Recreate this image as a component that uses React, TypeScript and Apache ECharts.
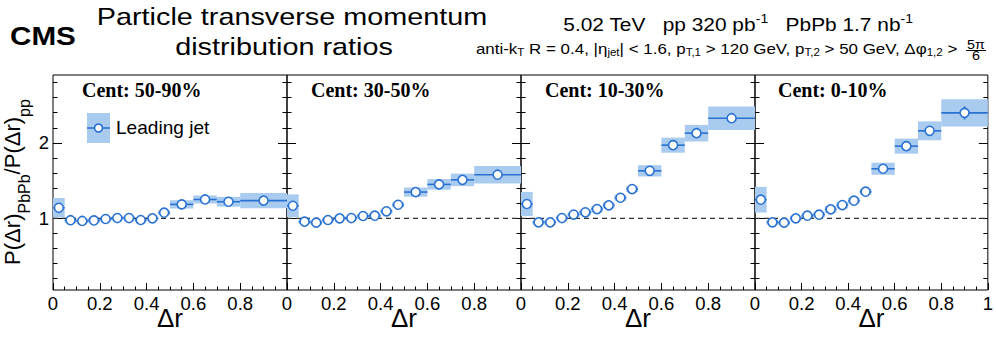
import React, { useEffect, useRef } from 'react';
import * as echarts from 'echarts';

// ---------------- data ----------------
const CENTRALITIES = ['Cent: 50-90%', 'Cent: 30-50%', 'Cent: 10-30%', 'Cent: 0-10%'];
const BIN_EDGES = [0, 0.05, 0.1, 0.15, 0.2, 0.25, 0.3, 0.35, 0.4, 0.45, 0.5, 0.6, 0.7, 0.8, 1.0];

const RATIO_50_90 = [1.14, 0.975, 0.965, 0.972, 0.991, 1.004, 1.004, 0.978, 1.0, 1.075, 1.185, 1.25, 1.22, 1.235];
const SYST_50_90 = [0.13, 0.035, 0.03, 0.03, 0.025, 0.025, 0.025, 0.03, 0.025, 0.03, 0.055, 0.053, 0.065, 0.1];
const STAT_50_90 = [0.03, 0.015, 0.015, 0.015, 0.015, 0.015, 0.015, 0.015, 0.015, 0.02, 0.02, 0.025, 0.03, 0.035];

const RATIO_30_50 = [1.167, 0.956, 0.943, 0.978, 1.0, 1.004, 1.031, 1.035, 1.093, 1.18, 1.348, 1.45, 1.51, 1.578];
const SYST_30_50 = [0.15, 0.03, 0.03, 0.03, 0.025, 0.025, 0.03, 0.03, 0.03, 0.035, 0.06, 0.07, 0.083, 0.117];
const STAT_30_50 = [0.03, 0.015, 0.015, 0.015, 0.015, 0.015, 0.015, 0.015, 0.015, 0.02, 0.02, 0.025, 0.03, 0.04];

const RATIO_10_30 = [1.19, 0.947, 0.947, 1.004, 1.05, 1.08, 1.123, 1.172, 1.273, 1.388, 1.63, 1.97, 2.129, 2.327];
const SYST_10_30 = [0.16, 0.03, 0.03, 0.03, 0.03, 0.035, 0.04, 0.04, 0.04, 0.04, 0.075, 0.1, 0.11, 0.157];
const STAT_10_30 = [0.03, 0.015, 0.015, 0.015, 0.015, 0.015, 0.02, 0.02, 0.02, 0.025, 0.03, 0.035, 0.045, 0.05];

const RATIO_0_10 = [1.247, 0.947, 0.943, 1.0, 1.035, 1.048, 1.119, 1.176, 1.234, 1.353, 1.657, 1.957, 2.16, 2.398];
const SYST_0_10 = [0.17, 0.03, 0.03, 0.03, 0.03, 0.035, 0.045, 0.045, 0.04, 0.04, 0.08, 0.1, 0.125, 0.18];
const STAT_0_10 = [0.03, 0.015, 0.015, 0.015, 0.015, 0.02, 0.02, 0.02, 0.025, 0.03, 0.04, 0.05, 0.065, 0.088];

const RATIOS = [RATIO_50_90, RATIO_30_50, RATIO_10_30, RATIO_0_10];
const SYSTS = [SYST_50_90, SYST_30_50, SYST_10_30, SYST_0_10];
const STATS = [STAT_50_90, STAT_30_50, STAT_10_30, STAT_0_10];

const REFERENCE_LEVEL = 1;
const Y_MIN = 0.05;
const Y_MAX = 2.9;
const Y_MAJOR_TICKS = [1, 2];
const Y_MINOR_TICKS = [0.2, 0.4, 0.6, 0.8, 1.2, 1.4, 1.6, 1.8, 2.2, 2.4, 2.6, 2.8];
const X_MIN = 0;
const X_MAX = 1;
const X_INTERVAL = 0.2;

// ---------------- styling ----------------
const SANS = '"Liberation Sans", Arial, Helvetica, sans-serif';
const SERIF = '"Liberation Serif", "Times New Roman", serif';
const BLUE = '#2a72d2';
const BAND = '#a9cbef';
const PANEL_LEFT = [53, 287, 521, 755];
const PANEL_WIDTH = [234, 234, 234, 233];
const PANEL_TOP = 75;
const PANEL_HEIGHT = 215;

export default function App() {
  const ref = useRef<HTMLDivElement>(null);

  useEffect(() => {
    if (!ref.current) return;
    const chart = echarts.init(ref.current, undefined, { renderer: 'svg' });

    const grid: any[] = [];
    const xAxis: any[] = [];
    const yAxis: any[] = [];
    const series: any[] = [];

    for (let g = 0; g < 4; g++) {
      grid.push({
        left: PANEL_LEFT[g],
        top: PANEL_TOP,
        width: PANEL_WIDTH[g],
        height: PANEL_HEIGHT,
        show: true,
        borderColor: '#000',
        borderWidth: 1,
        backgroundColor: 'transparent',
      });
      xAxis.push({
        type: 'value',
        gridIndex: g,
        min: X_MIN,
        max: X_MAX,
        interval: X_INTERVAL,
        position: 'bottom',
        axisLine: { show: false },
        splitLine: { show: false },
        axisTick: { show: true, inside: true, length: 7, lineStyle: { color: '#000', width: 1 } },
        minorTick: { show: true, splitNumber: 4, length: 3.5, lineStyle: { color: '#000', width: 1 } },
        axisLabel: {
          show: true,
          color: '#000',
          fontSize: 18.5,
          fontFamily: SANS,
          margin: 4,
          showMaxLabel: g === 3,
          showMinLabel: true,
        },
        name: 'Δr',
        nameLocation: 'middle',
        nameGap: 15,
        nameMoveOverlap: false,
        nameTextStyle: { fontSize: 26, color: '#000', fontFamily: SANS, verticalAlign: 'top' },
      });
      const mkY = (pos: string, major: boolean, labels: boolean) => ({
        type: 'value',
        gridIndex: g,
        position: pos,
        min: Y_MIN,
        max: Y_MAX,
        axisLine: { show: false },
        splitLine: { show: false },
        axisTick: {
          show: true,
          inside: true,
          length: major ? 9 : 4.5,
          customValues: major ? Y_MAJOR_TICKS : Y_MINOR_TICKS,
          lineStyle: { color: '#000', width: 1 },
        },
        axisLabel: {
          show: labels,
          customValues: Y_MAJOR_TICKS,
          color: '#000',
          fontSize: 18.5,
          fontFamily: SANS,
          margin: 4,
        },
      });
      yAxis.push(mkY('left', true, g === 0));
      yAxis.push(mkY('left', false, false));
      yAxis.push(mkY('right', true, false));
      yAxis.push(mkY('right', false, false));

      const rows = RATIOS[g].map((v, i) => [BIN_EDGES[i], BIN_EDGES[i + 1], v, SYSTS[g][i], STATS[g][i]]);
      const yIdx = g * 4;

      series.push({
        type: 'custom',
        name: 'Leading jet syst',
        xAxisIndex: g,
        yAxisIndex: yIdx,
        silent: true,
        z: 1,
        data: rows,
        encode: { x: [0, 1], y: 2 },
        renderItem: (params: any, api: any) => {
          const lo = api.value(0);
          const hi = api.value(1);
          const v = api.value(2);
          const s = api.value(3);
          const p1 = api.coord([lo, v + s]);
          const p2 = api.coord([hi, v - s]);
          return {
            type: 'rect',
            shape: { x: p1[0], y: p1[1], width: p2[0] - p1[0], height: p2[1] - p1[1] },
            style: { fill: BAND },
          };
        },
      });

      series.push({
        type: 'line',
        name: 'reference',
        xAxisIndex: g,
        yAxisIndex: yIdx,
        silent: true,
        z: 2,
        symbol: 'none',
        data: [[X_MIN, REFERENCE_LEVEL], [X_MAX, REFERENCE_LEVEL]],
        lineStyle: { color: '#333', width: 1.4, type: [5, 4] },
      });

      series.push({
        type: 'custom',
        name: 'Leading jet err',
        xAxisIndex: g,
        yAxisIndex: yIdx,
        silent: true,
        z: 3,
        data: rows,
        encode: { x: [0, 1], y: 2 },
        renderItem: (params: any, api: any) => {
          const lo = api.value(0);
          const hi = api.value(1);
          const v = api.value(2);
          const st = api.value(4);
          const c = (lo + hi) / 2;
          const a = api.coord([lo, v]);
          const b = api.coord([hi, v]);
          const t = api.coord([c, v + st]);
          const u = api.coord([c, v - st]);
          return {
            type: 'group',
            children: [
              { type: 'line', shape: { x1: a[0], y1: a[1], x2: b[0], y2: b[1] }, style: { stroke: BLUE, lineWidth: 1.6 } },
              { type: 'line', shape: { x1: t[0], y1: t[1], x2: u[0], y2: u[1] }, style: { stroke: BLUE, lineWidth: 1.6 } },
            ],
          };
        },
      });

      series.push({
        type: 'scatter',
        name: 'Leading jet',
        xAxisIndex: g,
        yAxisIndex: yIdx,
        silent: true,
        z: 4,
        symbol: 'circle',
        symbolSize: 9,
        itemStyle: { color: '#fff', borderColor: BLUE, borderWidth: 1.6, opacity: 1 },
        data: RATIOS[g].map((v, i) => [(BIN_EDGES[i] + BIN_EDGES[i + 1]) / 2, v]),
      });
    }

    const graphic: any[] = [
      {
        type: 'text', x: 10, y: 36, scaleX: 1.14,
        style: { text: 'CMS', fontSize: 26, fontWeight: 'bold', fontFamily: SANS, fill: '#000', align: 'left', verticalAlign: 'middle' },
      },
      {
        type: 'text', x: 292, y: 17, scaleX: 1.2,
        style: { text: 'Particle transverse momentum', fontSize: 24, fontFamily: SANS, fill: '#000', align: 'center', verticalAlign: 'middle' },
      },
      {
        type: 'text', x: 284, y: 47, scaleX: 1.2,
        style: { text: 'distribution ratios', fontSize: 24, fontFamily: SANS, fill: '#000', align: 'center', verticalAlign: 'middle' },
      },
      {
        type: 'text', x: 738, y: 25, scaleX: 1.16,
        style: {
          text: '5.02 TeV   pp 320 pb{sup|-1}   PbPb 1.7 nb{sup|-1}',
          fontSize: 18, fontFamily: SANS, fill: '#000', align: 'center', verticalAlign: 'middle', lineHeight: 24,
          rich: { sup: { fontSize: 12, lineHeight: 12, verticalAlign: 'top', fontFamily: SANS, fill: '#000' } },
        },
      },
      {
        type: 'text', x: 962, y: 48, scaleX: 1.1,
        style: {
          text: 'anti-k{sub|T} R = 0.4, |η{sub|jet}| < 1.6, p{sub|T,1} > 120 GeV, p{sub|T,2} > 50 GeV, Δφ{sub|1,2} > ',
          fontSize: 15.4, fontFamily: SANS, fill: '#000', align: 'right', verticalAlign: 'middle', lineHeight: 19,
          rich: { sub: { fontSize: 10.5, lineHeight: 10.5, verticalAlign: 'bottom', fontFamily: SANS, fill: '#000' } },
        },
      },
      {
        type: 'text', x: 976, y: 45, scaleX: 1.1,
        style: { text: '5π', fontSize: 13, fontFamily: SANS, fill: '#000', align: 'center', verticalAlign: 'middle' },
      },
      { type: 'line', shape: { x1: 966, y1: 50.5, x2: 986, y2: 50.5 }, style: { stroke: '#000', lineWidth: 1 } },
      {
        type: 'text', x: 976, y: 56, scaleX: 1.1,
        style: { text: '6', fontSize: 13, fontFamily: SANS, fill: '#000', align: 'center', verticalAlign: 'middle' },
      },
      {
        type: 'text', x: 12, y: 182, rotation: Math.PI / 2,
        style: {
          text: 'P(Δr){sub|PbPb}/P(Δr){sub|pp}',
          fontSize: 22, fontFamily: SANS, fill: '#000', align: 'center', verticalAlign: 'middle', lineHeight: 40,
          rich: { sub: { fontSize: 16, lineHeight: 16, verticalAlign: 'bottom', fontFamily: SANS, fill: '#000' } },
        },
      },
      // legend
      { type: 'rect', shape: { x: 87, y: 113, width: 23, height: 30 }, style: { fill: BAND } },
      { type: 'line', shape: { x1: 87, y1: 128, x2: 110, y2: 128 }, style: { stroke: BLUE, lineWidth: 1.6 } },
      { type: 'circle', shape: { cx: 98.5, cy: 128, r: 4 }, style: { fill: '#fff', stroke: BLUE, lineWidth: 1.6 } },
      {
        type: 'text', x: 116, y: 128, scaleX: 1.06,
        style: { text: 'Leading jet', fontSize: 18, fontFamily: SANS, fill: '#000', align: 'left', verticalAlign: 'middle' },
      },
    ];

    const CENT_OFFSETS = [29, 24, 24, 23];
    CENTRALITIES.forEach((c, g) => {
      graphic.push({
        type: 'text', x: PANEL_LEFT[g] + CENT_OFFSETS[g], y: 90,
        style: { text: c, fontSize: 20, fontWeight: 'bold', fontFamily: SERIF, fill: '#000', align: 'left', verticalAlign: 'middle' },
      });
    });

    chart.setOption({
      animation: false,
      backgroundColor: '#fff',
      grid,
      xAxis,
      yAxis,
      series,
      graphic,
    });

    return () => chart.dispose();
  }, []);

  return <div ref={ref} style={{ position: 'absolute', left: 0, top: 0, width: 996, height: 342 }} />;
}
